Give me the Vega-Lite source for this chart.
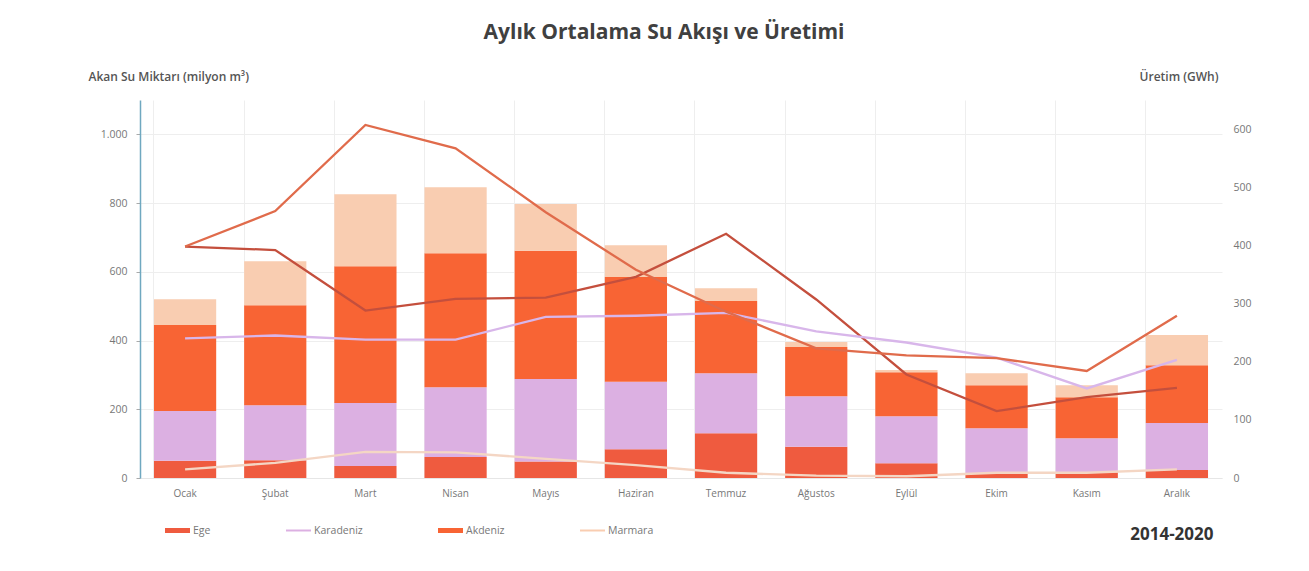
{
  "$schema": "https://vega.github.io/schema/vega-lite/v6.json",
  "width": 1082,
  "height": 378,
  "autosize": {"type": "none"},
  "padding": {"left": 140, "top": 100, "right": 87, "bottom": 93},
  "background": "white",
  "config": {"view": {"stroke": null}, "font": "Open Sans"},
  "title": {"text": "Aylık Ortalama Su Akışı ve Üretimi", "fontSize": 21, "fontWeight": "bold", "color": "#404040", "anchor": "middle", "dx": -17, "offset": 27, "font": "Open Sans"},
  "data": {"values": [
    {"ay": "Ocak", "bolge": "Ege", "akis": 50, "uretim": 398},
    {"ay": "Ocak", "bolge": "Karadeniz", "akis": 145, "uretim": 240},
    {"ay": "Ocak", "bolge": "Akdeniz", "akis": 250, "uretim": 398},
    {"ay": "Ocak", "bolge": "Marmara", "akis": 75, "uretim": 15},
    {"ay": "Şubat", "bolge": "Ege", "akis": 52, "uretim": 392},
    {"ay": "Şubat", "bolge": "Karadeniz", "akis": 160, "uretim": 245},
    {"ay": "Şubat", "bolge": "Akdeniz", "akis": 291, "uretim": 459},
    {"ay": "Şubat", "bolge": "Marmara", "akis": 128, "uretim": 26},
    {"ay": "Mart", "bolge": "Ege", "akis": 35, "uretim": 288},
    {"ay": "Mart", "bolge": "Karadeniz", "akis": 183, "uretim": 238},
    {"ay": "Mart", "bolge": "Akdeniz", "akis": 398, "uretim": 607},
    {"ay": "Mart", "bolge": "Marmara", "akis": 210, "uretim": 45},
    {"ay": "Nisan", "bolge": "Ege", "akis": 61, "uretim": 308},
    {"ay": "Nisan", "bolge": "Karadeniz", "akis": 203, "uretim": 238},
    {"ay": "Nisan", "bolge": "Akdeniz", "akis": 390, "uretim": 567},
    {"ay": "Nisan", "bolge": "Marmara", "akis": 192, "uretim": 44},
    {"ay": "Mayıs", "bolge": "Ege", "akis": 48, "uretim": 310},
    {"ay": "Mayıs", "bolge": "Karadeniz", "akis": 240, "uretim": 277},
    {"ay": "Mayıs", "bolge": "Akdeniz", "akis": 373, "uretim": 457},
    {"ay": "Mayıs", "bolge": "Marmara", "akis": 136, "uretim": 33},
    {"ay": "Haziran", "bolge": "Ege", "akis": 84, "uretim": 346},
    {"ay": "Haziran", "bolge": "Karadeniz", "akis": 196, "uretim": 279},
    {"ay": "Haziran", "bolge": "Akdeniz", "akis": 305, "uretim": 358},
    {"ay": "Haziran", "bolge": "Marmara", "akis": 92, "uretim": 22},
    {"ay": "Temmuz", "bolge": "Ege", "akis": 130, "uretim": 420},
    {"ay": "Temmuz", "bolge": "Karadeniz", "akis": 175, "uretim": 284},
    {"ay": "Temmuz", "bolge": "Akdeniz", "akis": 210, "uretim": 286},
    {"ay": "Temmuz", "bolge": "Marmara", "akis": 37, "uretim": 9},
    {"ay": "Ağustos", "bolge": "Ege", "akis": 91, "uretim": 307},
    {"ay": "Ağustos", "bolge": "Karadeniz", "akis": 147, "uretim": 252},
    {"ay": "Ağustos", "bolge": "Akdeniz", "akis": 143, "uretim": 223},
    {"ay": "Ağustos", "bolge": "Marmara", "akis": 15, "uretim": 4},
    {"ay": "Eylül", "bolge": "Ege", "akis": 43, "uretim": 178},
    {"ay": "Eylül", "bolge": "Karadeniz", "akis": 137, "uretim": 233},
    {"ay": "Eylül", "bolge": "Akdeniz", "akis": 128, "uretim": 211},
    {"ay": "Eylül", "bolge": "Marmara", "akis": 6, "uretim": 3},
    {"ay": "Ekim", "bolge": "Ege", "akis": 14, "uretim": 115},
    {"ay": "Ekim", "bolge": "Karadeniz", "akis": 131, "uretim": 207},
    {"ay": "Ekim", "bolge": "Akdeniz", "akis": 125, "uretim": 206},
    {"ay": "Ekim", "bolge": "Marmara", "akis": 35, "uretim": 9},
    {"ay": "Kasım", "bolge": "Ege", "akis": 17, "uretim": 139},
    {"ay": "Kasım", "bolge": "Karadeniz", "akis": 99, "uretim": 154},
    {"ay": "Kasım", "bolge": "Akdeniz", "akis": 119, "uretim": 184},
    {"ay": "Kasım", "bolge": "Marmara", "akis": 35, "uretim": 9},
    {"ay": "Aralık", "bolge": "Ege", "akis": 23, "uretim": 155},
    {"ay": "Aralık", "bolge": "Karadeniz", "akis": 137, "uretim": 203},
    {"ay": "Aralık", "bolge": "Akdeniz", "akis": 168, "uretim": 279},
    {"ay": "Aralık", "bolge": "Marmara", "akis": 88, "uretim": 15}
  ]},
  "layer": [
    {
      "transform": [{"calculate": "indexof(['Ege','Karadeniz','Akdeniz','Marmara'], datum.bolge)", "as": "sira"}],
      "mark": {"type": "bar"},
      "encoding": {
        "x": {
          "field": "ay", "type": "nominal",
          "sort": ["Ocak","Şubat","Mart","Nisan","Mayıs","Haziran","Temmuz","Ağustos","Eylül","Ekim","Kasım","Aralık"],
          "scale": {"paddingInner": 0.31, "paddingOuter": 0.155},
          "axis": {
            "labelAngle": 0, "labelFontSize": 10, "labelColor": "#777777", "labelPadding": 10,
            "ticks": false, "domain": true, "domainColor": "#e6e6e6",
            "grid": true, "bandPosition": 0, "gridColor": "#eeeeee",
            "title": "2014-2020", "titleFontSize": 17, "titleFontWeight": "bold", "titleColor": "#333333",
            "titleAlign": "right", "titleX": 1073, "titleY": 56, "titleBaseline": "middle"
          }
        },
        "y": {
          "field": "akis", "type": "quantitative", "stack": "zero",
          "scale": {"domain": [0, 1100], "nice": false},
          "axis": {
            "values": [0, 200, 400, 600, 800, 1000],
            "labelExpr": "replace(format(datum.value, ','), ',', '.')",
            "labelFontSize": 10.5, "labelColor": "#777777", "labelPadding": 9,
            "domainColor": "#6fa8c0", "domainWidth": 1.5, "tickColor": "#aaaaaa", "tickSize": 4,
            "grid": true, "gridColor": "#eeeeee",
            "title": "Akan Su Miktarı (milyon m³)", "titleAngle": 0, "titleAlign": "left",
            "titleX": -52, "titleY": -24, "titleBaseline": "middle",
            "titleFontSize": 12, "titleFontWeight": 600, "titleColor": "#555555"
          }
        },
        "color": {
          "field": "bolge", "type": "nominal",
          "scale": {"domain": ["Ege","Karadeniz","Akdeniz","Marmara"], "range": ["#ef5b3f","#dcb0e2","#f86434","#f9cdb1"]},
          "legend": {
            "title": null, "orient": "none", "direction": "horizontal", "columns": 4,
            "legendX": 25, "legendY": 418, "symbolType": "square", "symbolSize": 625,
            "labelFontSize": 10.5, "labelColor": "#777777",
            "gridAlign": "none", "columnPadding": 75, "labelOffset": 3,
            "encode": {"symbols": {"update": {
              "shape": {"signal": "datum.value == 'Ege' || datum.value == 'Akdeniz' ? 'M-1,-0.2H1V0.2H-1Z' : 'M-1,-0.08H1V0.08H-1Z'"},
              "strokeWidth": {"value": 0}
            }}}
          }
        },
        "order": {"field": "sira", "type": "quantitative", "sort": "ascending"}
      }
    },
    {
      "mark": {"type": "line", "strokeWidth": 2.3},
      "encoding": {
        "x": {
          "field": "ay", "type": "nominal",
          "sort": ["Ocak","Şubat","Mart","Nisan","Mayıs","Haziran","Temmuz","Ağustos","Eylül","Ekim","Kasım","Aralık"]
        },
        "y": {
          "field": "uretim", "type": "quantitative",
          "scale": {"domain": [0, 650], "nice": false},
          "axis": {
            "orient": "right", "values": [0, 100, 200, 300, 400, 500, 600],
            "labelFontSize": 10.5, "labelColor": "#777777", "labelPadding": 11,
            "domain": false, "ticks": false, "grid": false,
            "title": "Üretim (GWh)", "titleAngle": 0, "titleAlign": "right",
            "titleX": -4, "titleY": -24, "titleBaseline": "middle",
            "titleFontSize": 12, "titleFontWeight": 600, "titleColor": "#555555"
          }
        },
        "color": {
          "field": "bolge", "type": "nominal",
          "scale": {"domain": ["Ege","Karadeniz","Akdeniz","Marmara"], "range": ["#c44f3d","#d8b6ea","#e06b4b","#f4d6c4"]},
          "legend": null
        }
      }
    }
  ],
  "resolve": {"scale": {"y": "independent", "color": "independent"}}
}
